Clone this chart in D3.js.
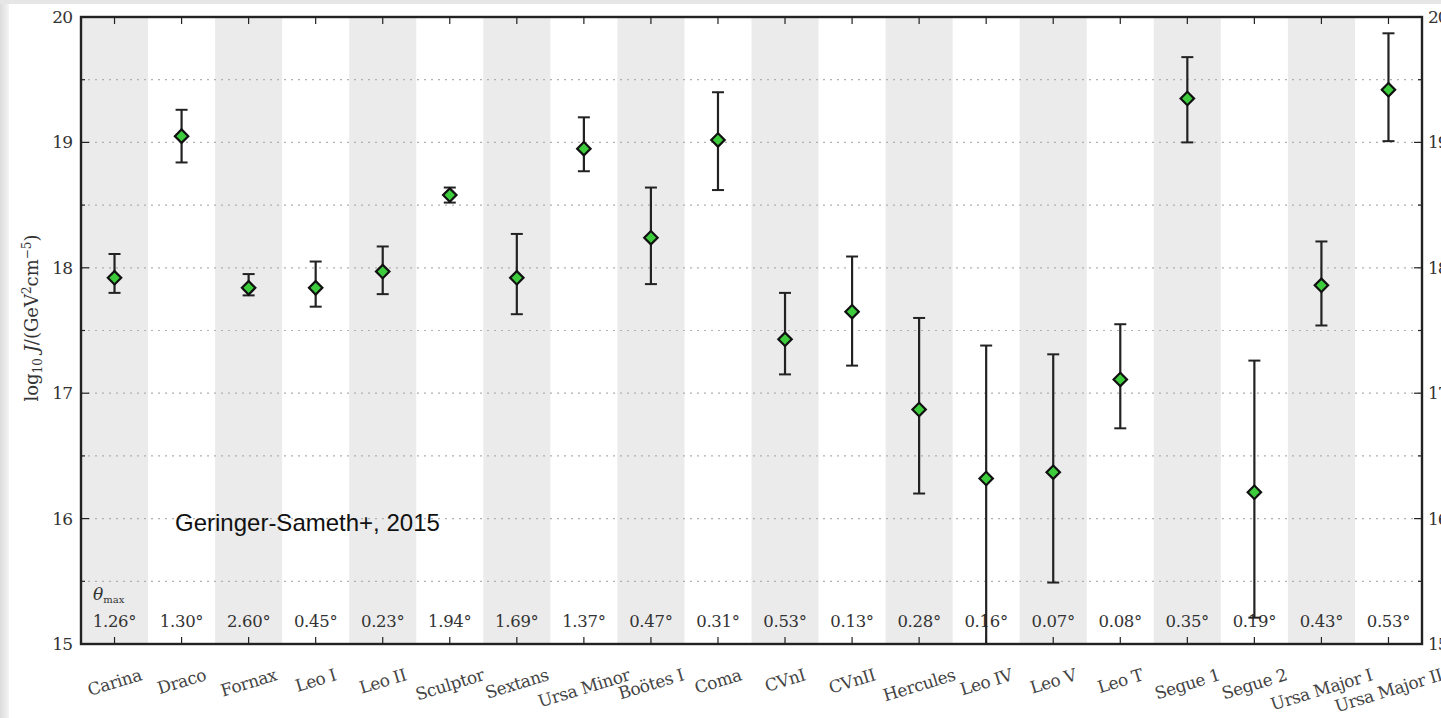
<!DOCTYPE html>
<html>
<head>
<meta charset="utf-8">
<script src="https://cdn.jsdelivr.net/npm/d3@7"></script>
<style>
  html, body { margin: 0; padding: 0; background: #fff; overflow: hidden; }
  svg { display: block; }
</style>
</head>
<body>
<svg id="chart" width="1441" height="718"></svg>
<script>
// Dwarf spheroidal galaxies and their J-factor estimates
const categories = ["Carina", "Draco", "Fornax", "Leo I", "Leo II", "Sculptor", "Sextans",
  "Ursa Minor", "Boötes I", "Coma", "CVnI", "CVnII", "Hercules", "Leo IV", "Leo V",
  "Leo T", "Segue 1", "Segue 2", "Ursa Major I", "Ursa Major II"];
const jCentral = [17.92, 19.05, 17.84, 17.84, 17.97, 18.58, 17.92, 18.95, 18.24, 19.02,
  17.43, 17.65, 16.87, 16.32, 16.37, 17.11, 19.35, 16.21, 17.86, 19.42];
const jUpper = [18.11, 19.26, 17.95, 18.05, 18.17, 18.64, 18.27, 19.20, 18.64, 19.40,
  17.80, 18.09, 17.60, 17.38, 17.31, 17.55, 19.68, 17.26, 18.21, 19.87];
const jLower = [17.80, 18.84, 17.78, 17.69, 17.79, 18.52, 17.63, 18.77, 17.87, 18.62,
  17.15, 17.22, 16.20, 14.50, 15.49, 16.72, 19.00, 15.21, 17.54, 19.01];
const thetaMax = ["1.26°", "1.30°", "2.60°", "0.45°", "0.23°", "1.94°", "1.69°", "1.37°",
  "0.47°", "0.31°", "0.53°", "0.13°", "0.28°", "0.16°", "0.07°", "0.08°", "0.35°",
  "0.19°", "0.43°", "0.53°"];
const yMajorTicks = [15, 16, 17, 18, 19, 20];
const yMinorTicks = [15.5, 16.5, 17.5, 18.5, 19.5];
const yDomain = [15, 20];

const svg = d3.select("#chart");
const W = 1441, H = 718;
const m = { left: 81, right: 1422, top: 17, bottom: 644 };
const serif = "'DejaVu Serif', 'Liberation Serif', serif";

// page frame
const defs = svg.append("defs");
const grad = defs.append("linearGradient").attr("id", "edge").attr("x1", 0).attr("x2", 1);
grad.append("stop").attr("offset", 0).attr("stop-color", "#dcdcdc");
grad.append("stop").attr("offset", 1).attr("stop-color", "#f4f4f4");
svg.append("rect").attr("width", W).attr("height", H).attr("fill", "#fff");
svg.append("rect").attr("width", W).attr("height", 4).attr("fill", "#e6e6e6");
svg.append("rect").attr("y", 4).attr("width", 9).attr("height", H).attr("fill", "url(#edge)");

const x = d3.scaleBand().domain(categories).range([m.left, m.right]).padding(0);
const y = d3.scaleLinear().domain(yDomain).range([m.bottom, m.top]);

defs.append("clipPath").attr("id", "plotClip").append("rect")
  .attr("x", m.left).attr("y", m.top).attr("width", m.right - m.left).attr("height", m.bottom - m.top);

// alternating bands
svg.append("g").selectAll("rect").data(categories.filter((d, i) => i % 2 === 0)).join("rect")
  .attr("x", d => x(d)).attr("y", m.top)
  .attr("width", x.bandwidth()).attr("height", m.bottom - m.top)
  .attr("fill", "#ebebeb");

// dotted horizontal grid
svg.append("g").selectAll("line").data(yMajorTicks.concat(yMinorTicks).filter(v => v > 15 && v < 20)).join("line")
  .attr("x1", m.left).attr("x2", m.right)
  .attr("y1", d => y(d)).attr("y2", d => y(d))
  .attr("stroke", "#b0b0b0").attr("stroke-width", 1.2).attr("stroke-dasharray", "2,5");

// theta_max annotations
svg.append("g").selectAll("text").data(categories).join("text")
  .attr("x", d => x(d) + x.bandwidth() / 2).attr("y", 627)
  .attr("text-anchor", "middle").attr("font-family", serif).attr("font-size", 16.5)
  .attr("letter-spacing", -0.3)
  .attr("fill", "#333").text((d, i) => thetaMax[i]);
const th = svg.append("text").attr("x", 93).attr("y", 600)
  .attr("font-family", serif).attr("font-size", 17).attr("fill", "#333");
th.append("tspan").attr("font-style", "italic").text("θ");
th.append("tspan").attr("font-size", 10).attr("dy", 3).text("max");

// annotation
svg.append("text").attr("x", 175).attr("y", 531)
  .attr("font-family", "'Liberation Sans', Arial, sans-serif").attr("font-size", 24)
  .attr("fill", "#111").text("Geringer-Sameth+, 2015");

// error bars and markers
const data = categories.map((c, i) => ({ c, v: jCentral[i], hi: jUpper[i], lo: jLower[i] }));
const cx = d => x(d.c) + x.bandwidth() / 2;
const eb = svg.append("g").attr("clip-path", "url(#plotClip)");
eb.selectAll("line.bar").data(data).join("line").attr("class", "bar")
  .attr("x1", cx).attr("x2", cx).attr("y1", d => y(d.hi)).attr("y2", d => y(d.lo))
  .attr("stroke", "#222").attr("stroke-width", 2.2);
eb.selectAll("line.capHi").data(data).join("line").attr("class", "capHi")
  .attr("x1", d => cx(d) - 6).attr("x2", d => cx(d) + 6)
  .attr("y1", d => y(d.hi)).attr("y2", d => y(d.hi))
  .attr("stroke", "#222").attr("stroke-width", 2);
eb.selectAll("line.capLo").data(data).join("line").attr("class", "capLo")
  .attr("x1", d => cx(d) - 6).attr("x2", d => cx(d) + 6)
  .attr("y1", d => y(d.lo)).attr("y2", d => y(d.lo))
  .attr("stroke", "#222").attr("stroke-width", 2);
const diamond = d3.symbol().type(d3.symbolSquare).size(90);
eb.selectAll("path.pt").data(data).join("path").attr("class", "pt")
  .attr("d", diamond)
  .attr("transform", d => `translate(${cx(d)},${y(d.v)}) rotate(45)`)
  .attr("fill", "#3ccc3c").attr("stroke", "#111").attr("stroke-width", 2.2);

// axes frame and ticks
const frame = svg.append("g").attr("stroke", "#222");
frame.append("rect").attr("x", m.left).attr("y", m.top)
  .attr("width", m.right - m.left).attr("height", m.bottom - m.top)
  .attr("fill", "none").attr("stroke-width", 2.4);
categories.forEach(c => {
  const px = x(c) + x.bandwidth() / 2;
  frame.append("line").attr("x1", px).attr("x2", px).attr("y1", m.bottom).attr("y2", m.bottom - 7).attr("stroke-width", 1.2);
  frame.append("line").attr("x1", px).attr("x2", px).attr("y1", m.top).attr("y2", m.top + 7).attr("stroke-width", 1.2);
});
yMajorTicks.forEach(v => {
  frame.append("line").attr("x1", m.left).attr("x2", m.left + 8).attr("y1", y(v)).attr("y2", y(v)).attr("stroke-width", 1.2);
  frame.append("line").attr("x1", m.right).attr("x2", m.right - 8).attr("y1", y(v)).attr("y2", y(v)).attr("stroke-width", 1.2);
});
yMinorTicks.forEach(v => {
  frame.append("line").attr("x1", m.left).attr("x2", m.left + 4).attr("y1", y(v)).attr("y2", y(v)).attr("stroke-width", 1.2);
  frame.append("line").attr("x1", m.right).attr("x2", m.right - 4).attr("y1", y(v)).attr("y2", y(v)).attr("stroke-width", 1.2);
});

// y tick labels (both sides; the right-hand ones run off the page edge)
svg.append("g").selectAll("text").data(yMajorTicks).join("text")
  .attr("x", 72).attr("y", d => y(d) + 6).attr("text-anchor", "end")
  .attr("font-family", serif).attr("font-size", 17).attr("letter-spacing", -1)
  .attr("fill", "#333").text(d => d);
svg.append("g").selectAll("text").data(yMajorTicks).join("text")
  .attr("x", 1428).attr("y", d => y(d) + 6).attr("text-anchor", "start")
  .attr("font-family", serif).attr("font-size", 17).attr("letter-spacing", -1)
  .attr("fill", "#333").text(d => d);

// rotated category labels
const ang = 17, rad = ang * Math.PI / 180;
const xl = svg.append("g");
categories.forEach(c => {
  const t = xl.append("text").attr("font-family", serif).attr("font-size", 17)
    .attr("letter-spacing", -0.4)
    .attr("fill", "#444").attr("text-anchor", "middle").text(c);
  const w = t.node().getComputedTextLength();
  const bh = w * Math.sin(rad) + 17 * Math.cos(rad);
  const cy = 666 + bh / 2;
  t.attr("transform", `translate(${x(c) + x.bandwidth() / 2},${cy}) rotate(${-ang})`)
    .attr("dy", "0.35em");
});

// y axis title
const yl = svg.append("text").attr("transform", "translate(38,318) rotate(-90)")
  .attr("text-anchor", "middle").attr("font-family", serif).attr("font-size", 18).attr("fill", "#333");
yl.append("tspan").text("log");
yl.append("tspan").attr("font-size", 12).attr("dy", 4).text("10");
yl.append("tspan").attr("dy", -4).text(" ");
yl.append("tspan").attr("font-style", "italic").text("J");
yl.append("tspan").text("/(GeV");
yl.append("tspan").attr("font-size", 12).attr("dy", -7).text("2");
yl.append("tspan").attr("dy", 7).text("cm");
yl.append("tspan").attr("font-size", 12).attr("dy", -7).text("−5");
yl.append("tspan").attr("dy", 7).text(")");
</script>
</body>
</html>
